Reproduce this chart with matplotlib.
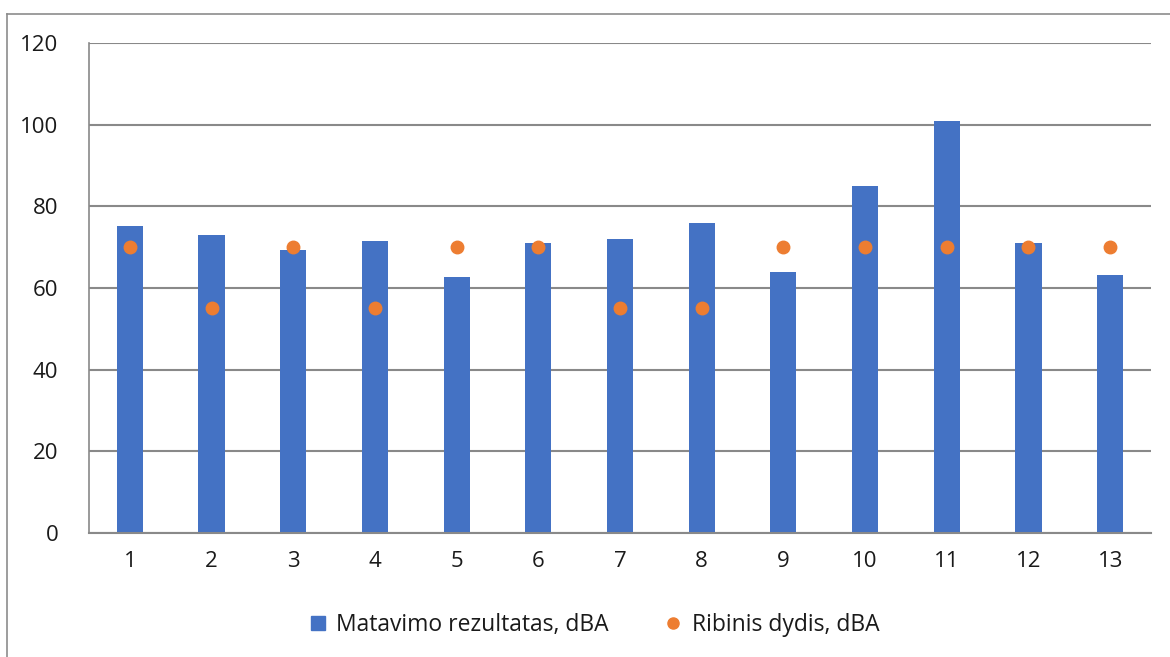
import matplotlib
matplotlib.use("Agg")
import matplotlib.pyplot as plt
from matplotlib.lines import Line2D
import numpy as np

categories = ["1", "2", "3", "4", "5", "6", "7", "8", "9", "10", "11", "12", "13"]
measured = [75.3, 73.1, 69.4, 71.4, 62.6, 70.9, 71.9, 76.0, 64.0, 85.1, 101.0, 70.9, 63.1]
limit = [70, 55, 70, 55, 70, 70, 55, 55, 70, 70, 70, 70, 70]
yticks = [0, 20, 40, 60, 80, 100, 120]

plt.rcParams['font.family'] = ['Open Sans', 'DejaVu Sans']

fig = plt.figure(figsize=(11.7, 6.57), dpi=100)
ax = fig.add_axes([89/1170, 1 - 533/657, (1151-89)/1170, (533-43)/657])

x = np.arange(len(categories))
ax.bar(x, measured, width=0.32, color='#4472C4', zorder=2, label='Matavimo rezultatas, dBA')
ax.plot(x, limit, linestyle='none', marker='o', markersize=9, color='#ED7D31', zorder=3,
        label='Ribinis dydis, dBA')

ax.set_xlim(-0.5, len(categories) - 0.5)
ax.set_ylim(0, 120)
ax.set_yticks(yticks)
ax.set_xticks(x)
ax.set_xticklabels(categories)
ax.yaxis.grid(True, color='#898989', linewidth=1.5, zorder=0)
ax.set_axisbelow(True)
for s in ['top', 'right']:
    ax.spines[s].set_visible(False)
ax.spines['left'].set_color('#898989')
ax.spines['left'].set_linewidth(1.2)
ax.spines['bottom'].set_color('#898989')
ax.spines['bottom'].set_linewidth(1.5)
ax.tick_params(axis='both', length=0, labelsize=16, colors='#1a1a1a')
ax.tick_params(axis='y', pad=22)
ax.tick_params(axis='x', pad=13)

handles = [Line2D([], [], linestyle='none', marker='s', markersize=10, color='#4472C4'),
           Line2D([], [], linestyle='none', marker='o', markersize=8, color='#ED7D31')]
fig.legend(handles, ['Matavimo rezultatas, dBA', 'Ribinis dydis, dBA'], loc='center',
           bbox_to_anchor=(594/1170, 1 - 625/657), ncol=2, frameon=False, fontsize=16.5,
           handlelength=0.8, handletextpad=0.4, columnspacing=2.4, labelcolor='#1a1a1a')

# outer chart border (left and top visible)
fig.add_artist(Line2D([7/1170, 7/1170], [0, 1 - 14/657], transform=fig.transFigure,
                      color='#8c8c8c', linewidth=1.2))
fig.add_artist(Line2D([7/1170, 1], [1 - 14/657, 1 - 14/657], transform=fig.transFigure,
                      color='#8c8c8c', linewidth=1.2))

fig.savefig('out.png', dpi=100)
